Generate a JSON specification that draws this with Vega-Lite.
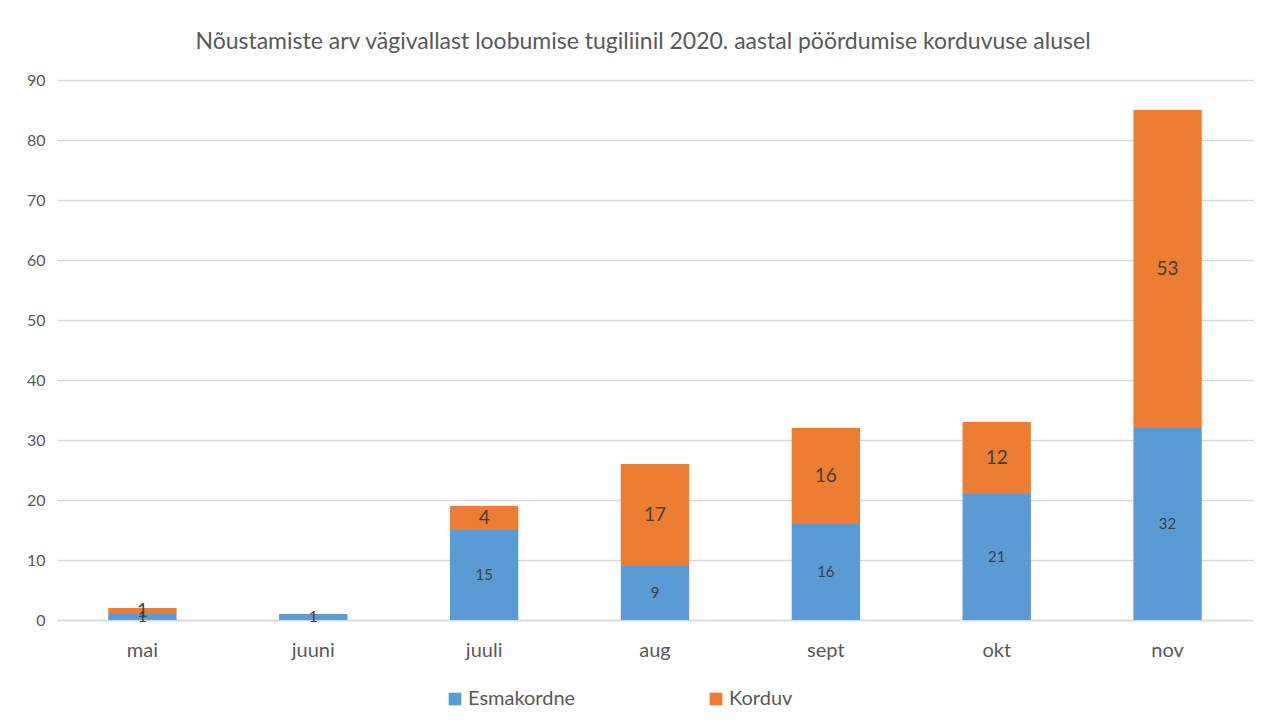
{
  "$schema": "https://vega.github.io/schema/vega-lite/v6.json",
  "width": 1196,
  "height": 540,
  "autosize": {"type": "none"},
  "padding": {"left": 57, "top": 80, "right": 12, "bottom": 102},
  "background": "white",
  "title": {
    "text": "Nõustamiste arv vägivallast loobumise tugiliinil 2020. aastal pöördumise korduvuse alusel",
    "font": "Lato",
    "fontSize": 23,
    "fontWeight": "normal",
    "color": "#595959",
    "anchor": "middle",
    "dx": -12,
    "offset": 18
  },
  "config": {
    "font": "Lato",
    "view": {"stroke": null}
  },
  "data": {
    "values": [
      {"month": "mai", "series": "Esmakordne", "value": 1},
      {"month": "mai", "series": "Korduv", "value": 1},
      {"month": "juuni", "series": "Esmakordne", "value": 1},
      {"month": "juuli", "series": "Esmakordne", "value": 15},
      {"month": "juuli", "series": "Korduv", "value": 4},
      {"month": "aug", "series": "Esmakordne", "value": 9},
      {"month": "aug", "series": "Korduv", "value": 17},
      {"month": "sept", "series": "Esmakordne", "value": 16},
      {"month": "sept", "series": "Korduv", "value": 16},
      {"month": "okt", "series": "Esmakordne", "value": 21},
      {"month": "okt", "series": "Korduv", "value": 12},
      {"month": "nov", "series": "Esmakordne", "value": 32},
      {"month": "nov", "series": "Korduv", "value": 53}
    ]
  },
  "transform": [
    {"calculate": "datum.series === 'Esmakordne' ? 0 : 1", "as": "ord"},
    {"stack": "value", "groupby": ["month"], "sort": [{"field": "ord", "order": "ascending"}], "as": ["v0", "v1"]},
    {"calculate": "(datum.v0 + datum.v1) / 2", "as": "vmid"}
  ],
  "encoding": {
    "x": {
      "field": "month",
      "type": "nominal",
      "sort": ["mai", "juuni", "juuli", "aug", "sept", "okt", "nov"],
      "scale": {"paddingInner": 0.6, "paddingOuter": 0.3},
      "axis": {
        "title": null,
        "labelAngle": 0,
        "labelFontSize": 20,
        "labelColor": "#595959",
        "labelPadding": 20,
        "ticks": false,
        "domainColor": "#D9D9D9",
        "domainWidth": 1.5
      }
    }
  },
  "layer": [
    {
      "mark": {"type": "bar", "stroke": null},
      "encoding": {
        "y": {
          "field": "v0",
          "type": "quantitative",
          "scale": {"domain": [0, 90]},
          "axis": {
            "title": null,
            "values": [0, 10, 20, 30, 40, 50, 60, 70, 80, 90],
            "labelFontSize": 16,
            "labelColor": "#595959",
            "labelPadding": 12,
            "ticks": false,
            "domain": false,
            "gridColor": "#D9D9D9",
            "gridWidth": 1.5
          }
        },
        "y2": {"field": "v1"},
        "color": {
          "field": "series",
          "type": "nominal",
          "scale": {"domain": ["Esmakordne", "Korduv"], "range": ["#5B9BD5", "#ED7D31"]},
          "legend": {
            "title": null,
            "orient": "none",
            "direction": "horizontal",
            "legendX": 388,
            "legendY": 609,
            "symbolType": "square",
            "symbolSize": 160,
            "symbolStrokeWidth": 0,
            "symbolOpacity": 1,
            "labelFontSize": 20,
            "labelColor": "#595959",
            "columnPadding": 130,
            "labelOffset": 3
          }
        }
      }
    },
    {
      "transform": [{"filter": "datum.series === 'Esmakordne'"}],
      "mark": {"type": "text", "baseline": "middle", "align": "center", "color": "#404040", "fontSize": 15},
      "encoding": {
        "y": {"field": "vmid", "type": "quantitative"},
        "text": {"field": "value", "type": "quantitative"}
      }
    },
    {
      "transform": [{"filter": "datum.series === 'Korduv'"}],
      "mark": {"type": "text", "baseline": "middle", "align": "center", "color": "#404040", "fontSize": 19},
      "encoding": {
        "y": {"field": "vmid", "type": "quantitative"},
        "text": {"field": "value", "type": "quantitative"}
      }
    }
  ]
}
